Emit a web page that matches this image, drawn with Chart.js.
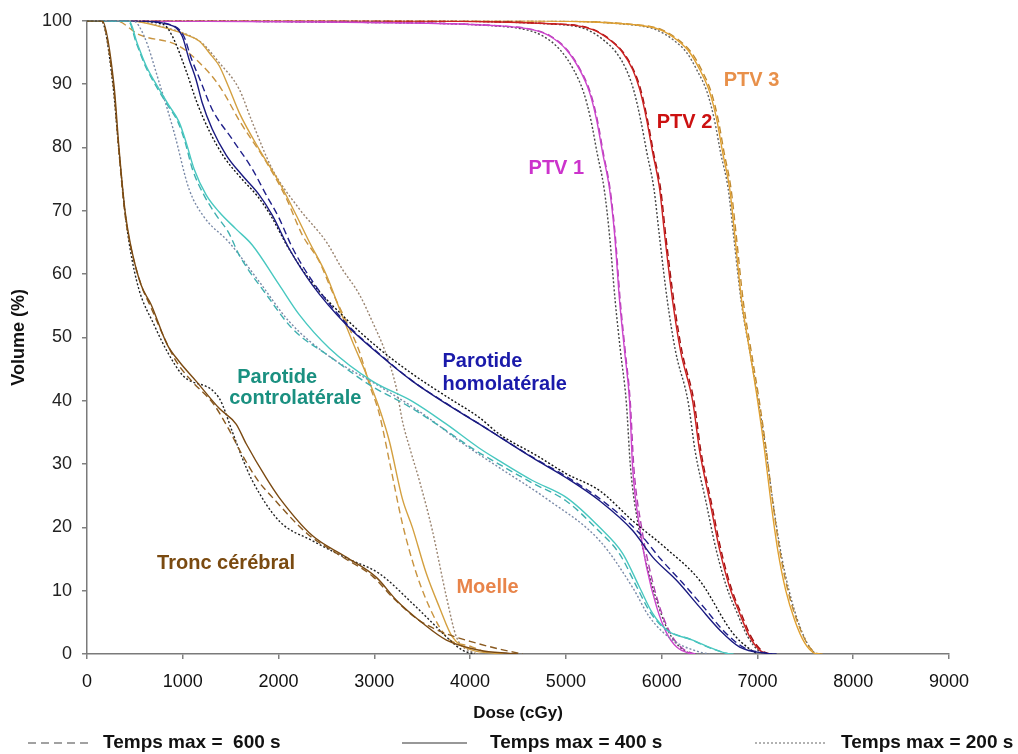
<!DOCTYPE html>
<html>
<head>
<meta charset="utf-8">
<script src="https://cdn.jsdelivr.net/npm/chart.js@4.4.1/dist/chart.umd.min.js"></script>
<style>
  body { margin: 0; background: #fff; }
  #wrap { position: relative; width: 1018px; height: 754px; }
  .leg { position: absolute; top: 729px; height: 26px; font: bold 19px "Liberation Sans", Arial, sans-serif; color: #111; line-height: 26px; white-space: nowrap; }
  .leg svg { position: absolute; top: 0; }
</style>
</head>
<body>
<div id="wrap">
  <canvas id="c" width="1018" height="754"></canvas>
  <div class="leg" style="left:28px"><svg width="64" height="26" style="left:0"><line x1="0" y1="14" x2="62" y2="14" stroke="#444" stroke-width="1.1" stroke-dasharray="8,5"/></svg><span style="position:absolute;left:75px">Temps max =&nbsp; 600 s</span></div>
  <div class="leg" style="left:402px"><svg width="70" height="26" style="left:0"><line x1="0" y1="14" x2="65" y2="14" stroke="#333" stroke-width="1.2"/></svg><span style="position:absolute;left:88px">Temps max = 400 s</span></div>
  <div class="leg" style="left:755px"><svg width="75" height="26" style="left:0"><line x1="0" y1="14" x2="72" y2="14" stroke="#666" stroke-width="1.1" stroke-dasharray="2,2"/></svg><span style="position:absolute;left:86px">Temps max = 200 s</span></div>
</div>
<script>
// dose (cGy), volume (%)
const xTicks = [0, 1000, 2000, 3000, 4000, 5000, 6000, 7000, 8000, 9000];

const troncDashed = [[0,100],[150,100],[275,89.8],[330,79.9],[392,70],[445,65.1],[560,58.5],[660,55],[820,49.5],[940,46],[1100,43],[1320,39.5],[1480,35.5],[1600,32],[1780,27.5],[1950,24.5],[2300,19],[2650,15.5],[2980,12.3],[3200,8.8],[3450,5.5],[3700,3.5],[4000,2],[4300,0.8],[4550,0]];
const troncSolid = [[0,100],[157,100],[282,89.8],[334,79.9],[397,70],[449,65.1],[564,58.3],[669,55.2],[836,48.9],[962,46.2],[1139,43.1],[1380,38.8],[1557,36.3],[1662,33.2],[1871,27.8],[2007,24.7],[2352,18.7],[2707,15.3],[3021,12.1],[3230,8.5],[3502,4.9],[3753,2.2],[4097,0.6],[4411,0.1],[4500,0]];
const troncDotted = [[0,100],[150,100],[270,90],[330,80],[395,70],[450,64],[540,57.7],[700,52],[836,47.8],[1000,44],[1380,40.4],[1520,35],[1620,31],[1725,27.4],[2007,21],[2352,17.9],[2700,15.2],[3052,12.7],[3397,8],[3600,5],[3753,2.7],[3920,0.6],[4050,0]];

const contraDashed = [[0,100],[430,100],[515,96.5],[605,93],[740,89.2],[845,86.6],[950,84],[1025,80.8],[1100,76.6],[1220,72.5],[1340,69.5],[1480,66.5],[1589,63],[1871,56.8],[2143,51.4],[2561,46.7],[2950,42.5],[3350,39.2],[3700,35.8],[4050,32.2],[4300,30],[4650,27],[5000,24.2],[5320,19.8],[5560,15.8],[5740,10.6],[5880,6.6],[6040,3.9],[6300,2.3],[6550,0.7],[6700,0]];
const contraSolid = [[0,100],[439,100],[523,96.5],[617,92.9],[753,89.2],[857,86.6],[962,84],[1035,80.8],[1118,76.6],[1244,72.5],[1380,69.8],[1557,67.1],[1725,64.6],[2007,58.3],[2216,53.6],[2530,48.3],[2979,43.1],[3397,39.9],[3753,36.3],[4097,32.5],[4307,30.5],[4651,27.4],[5007,24.7],[5352,20],[5592,15.9],[5770,10.5],[5906,6.4],[6052,3.8],[6324,2.2],[6575,0.6],[6679,0.1],[6750,0]];
const contraDotted = [[0,100],[480,100],[596,97.6],[753,90.3],[909,82.4],[1066,73.4],[1223,69],[1484,65],[1798,58.8],[2111,52.5],[2530,47],[3052,42.3],[3500,38],[3900,33.5],[4307,29.4],[4800,24.5],[5352,17.9],[5697,10.5],[5875,5.8],[6115,2.2],[6397,0.3],[6500,0]];

const homoDashed = [[0,100],[470,100],[870,99.4],[1010,97.6],[1090,94],[1180,90.7],[1307,86],[1516,81.3],[1725,76.6],[1871,72.5],[2000,69],[2150,64],[2380,58.3],[2720,52],[3060,47.3],[3400,43.1],[3760,39.5],[4100,36.3],[4660,31],[5030,27.8],[5400,24],[5760,19.2],[5990,15],[6220,11.2],[6450,7.2],[6650,3.6],[6860,1],[7150,0]];
const homoSolid = [[0,100],[470,100],[857,99.4],[993,97.6],[1066,93.9],[1139,90.7],[1202,87.1],[1307,82.9],[1453,78.8],[1620,75.6],[1798,72.5],[1934,69.3],[2111,64],[2352,58.3],[2707,52],[3052,47.3],[3397,43.1],[3753,39.5],[4097,36.3],[4651,31],[5007,27.8],[5352,24.2],[5697,19.5],[5906,15.3],[6157,11.6],[6397,7.4],[6606,3.8],[6815,1.1],[7097,0.1],[7200,0]];
const homoDotted = [[0,100],[440,100],[800,99.4],[890,97.6],[1030,92.3],[1150,87],[1280,82.5],[1430,78.5],[1600,75.3],[1780,72.3],[1920,69.2],[2100,64.2],[2340,58.8],[2700,53],[3052,48.2],[3400,44.2],[3760,40.6],[4100,37.3],[4307,34.7],[4700,31.3],[5000,28.5],[5352,25.8],[5700,21],[6052,16.6],[6397,11.6],[6742,3.3],[6900,1],[7000,0]];

const moelleDashed = [[0,100],[300,100],[544,97.8],[962,96],[1244,92.3],[1400,89.3],[1600,84],[1871,77.7],[2080,72],[2247,66.2],[2425,62],[2561,57.2],[2707,52.5],[2843,47.8],[2948,42.6],[3052,37.9],[3170,29.5],[3293,20.6],[3439,12.7],[3606,6.4],[3753,2.7],[4024,1.1],[4200,0]];
const moelleSolid = [[0,100],[439,100],[784,99],[1035,97.8],[1171,96.8],[1300,94.5],[1380,92.9],[1480,89.5],[1589,85.5],[1798,79.7],[2007,74.5],[2185,69.3],[2320,65.1],[2498,59.9],[2634,54.6],[2770,49.4],[2916,44.2],[3052,38.8],[3157,33.6],[3293,24.5],[3397,20],[3543,12.7],[3679,7.4],[3815,2.7],[4024,0.6],[4275,0.1],[4350,0]];
const moelleDotted = [[0,100],[450,100],[800,99],[1050,97.8],[1200,96.5],[1380,93.4],[1589,89.2],[1725,84],[1934,76.6],[2216,70.3],[2498,65.1],[2665,60.8],[2843,56.8],[2979,52.5],[3125,47.3],[3230,42],[3293,36.8],[3380,32],[3470,27.4],[3606,19.5],[3753,9],[3857,2.7],[4024,0.3],[4100,0]];

const ptv1Dashed = [[0,100],[2500,99.8],[4320,99.2],[4660,98.6],[4840,97.6],[5015,95.4],[5150,92.3],[5255,88.7],[5328,84.4],[5390,79.2],[5462,73.4],[5515,66.2],[5568,55.7],[5620,47.8],[5672,39.9],[5710,29.4],[5790,20],[5870,13.7],[5980,7.4],[6090,3.3],[6200,1.1],[6330,0.1],[6400,0]];
const ptv1Solid = [[0,100],[2500,99.8],[4307,99.2],[4651,98.6],[4829,97.6],[5007,95.4],[5143,92.3],[5247,88.7],[5320,84.4],[5383,79.2],[5456,73.4],[5509,66.2],[5561,55.7],[5613,47.8],[5665,39.9],[5697,29.4],[5770,20],[5843,13.7],[5948,7.4],[6052,3.3],[6157,1.1],[6293,0.1],[6350,0]];
const ptv1Dotted = [[0,100],[2500,99.8],[4250,99.2],[4580,98.6],[4760,97.6],[4940,95.4],[5080,92.3],[5185,88.7],[5260,84.4],[5325,79.2],[5400,73.4],[5455,66.2],[5515,55.7],[5570,47.8],[5630,39.9],[5675,29.4],[5760,20],[5850,13.7],[5970,7.4],[6080,3.3],[6190,1.1],[6300,0.1],[6360,0]];

const ptv2Dashed = [[0,100],[3000,100],[5020,99.4],[5290,98.6],[5465,97],[5600,95],[5705,92.3],[5780,89.2],[5852,84.4],[5915,79.2],[5990,73.4],[6042,66.2],[6128,55.7],[6212,47.8],[6338,39.9],[6410,32],[6515,24.2],[6620,16.4],[6725,10.5],[6830,6.4],[6935,2.7],[7040,0.6],[7110,0.1],[7170,0]];
const ptv2Solid = [[0,100],[3000,100],[5007,99.4],[5279,98.6],[5456,97],[5592,95],[5697,92.3],[5770,89.2],[5843,84.4],[5906,79.2],[5979,73.4],[6031,66.2],[6115,55.7],[6198,47.8],[6324,39.9],[6397,32],[6502,24.2],[6606,16.4],[6711,10.5],[6815,6.4],[6920,2.7],[7024,0.6],[7097,0.1],[7150,0]];
const ptv2Dotted = [[0,100],[3000,100],[4950,99.4],[5220,98.6],[5390,97],[5525,95],[5630,92.3],[5705,89.2],[5780,84.4],[5845,79.2],[5920,73.4],[5975,66.2],[6060,55.7],[6145,47.8],[6275,39.9],[6350,32],[6460,24.2],[6570,16.4],[6680,10.5],[6790,6.4],[6900,2.7],[7005,0.6],[7080,0]];

const ptv3Dashed = [[0,100],[4500,100],[5720,99.4],[6000,98.6],[6175,97],[6310,95],[6415,92.3],[6518,88.7],[6590,84.4],[6652,79.2],[6725,73.4],[6778,66.2],[6852,55.7],[6935,47.8],[7020,39.9],[7094,32],[7158,24.2],[7232,16.4],[7318,10],[7412,5.3],[7518,1.7],[7620,0.1],[7680,0]];
const ptv3Solid = [[0,100],[4500,100],[5697,99.4],[5979,98.6],[6157,97],[6293,95],[6397,92.3],[6502,88.7],[6575,84.4],[6637,79.2],[6711,73.4],[6763,66.2],[6836,55.7],[6920,47.8],[7003,39.9],[7076,32],[7139,24.2],[7212,16.4],[7296,10],[7390,5.3],[7495,1.7],[7599,0.1],[7650,0]];
const ptv3Dotted = [[0,100],[4500,100],[5660,99.4],[5940,98.6],[6120,97],[6260,95],[6365,92.3],[6475,88.7],[6550,84.4],[6615,79.2],[6695,73.4],[6750,66.2],[6830,55.7],[6920,47.8],[7010,39.9],[7090,32],[7160,24.2],[7240,16.4],[7330,10],[7420,5.3],[7520,1.7],[7610,0.1],[7660,0]];

// structure name labels, anchored at (dose, volume) - left / middle
const labels = [
  { text: "PTV 1", dose: 4610, vol: 76.7, color: "#cc33cc" },
  { text: "PTV 2", dose: 5948, vol: 84.0, color: "#cc1111" },
  { text: "PTV 3", dose: 6648, vol: 90.6, color: "#e8904a" },
  { text: "Parotide", dose: 3711, vol: 46.2, color: "#1a1aaa" },
  { text: "homolatérale", dose: 3711, vol: 42.6, color: "#1a1aaa" },
  { text: "Parotide", dose: 1568, vol: 43.6, color: "#1a9080" },
  { text: "controlatérale", dose: 1484, vol: 40.4, color: "#1a9080" },
  { text: "Tronc cérébral", dose: 732, vol: 14.3, color: "#7a4a10" },
  { text: "Moelle", dose: 3857, vol: 10.5, color: "#e8844a" }
];

const DASH = [7, 4], DOT = [2, 2];
function curve(pts, color, dash) {
  return {
    data: pts.map(p => ({ x: p[0], y: p[1] })),
    borderColor: color, borderWidth: 1.4, borderDash: dash,
    pointRadius: 0, fill: false, cubicInterpolationMode: 'monotone'
  };
}

const datasets = [
  curve(troncSolid, "#7b4a12", []), curve(troncDashed, "#8a5a20", DASH), curve(troncDotted, "#222", DOT),
  curve(contraSolid, "#48c8c0", []), curve(contraDashed, "#40b0b0", DASH), curve(contraDotted, "#7a8aa8", DOT),
  curve(homoSolid, "#1a1a80", []), curve(homoDashed, "#20208a", DASH), curve(homoDotted, "#111", DOT),
  curve(moelleSolid, "#d4a040", []), curve(moelleDashed, "#c89440", DASH), curve(moelleDotted, "#9a8470", DOT),
  curve(ptv1Solid, "#cc44cc", []), curve(ptv1Dashed, "#b040b0", DASH), curve(ptv1Dotted, "#444", DOT),
  curve(ptv2Solid, "#cc2020", []), curve(ptv2Dashed, "#a01010", DASH), curve(ptv2Dotted, "#444", DOT),
  curve(ptv3Solid, "#e0a030", []), curve(ptv3Dashed, "#c08a30", DASH), curve(ptv3Dotted, "#666", DOT)
];

const labelPlugin = {
  id: 'structLabels',
  afterDatasetsDraw(chart) {
    const { ctx, scales: { x, y } } = chart;
    ctx.save();
    ctx.font = 'bold 20px "Liberation Sans", Arial, sans-serif';
    ctx.textAlign = 'left';
    ctx.textBaseline = 'middle';
    labels.forEach(l => {
      ctx.fillStyle = l.color;
      ctx.fillText(l.text, x.getPixelForValue(l.dose), y.getPixelForValue(l.vol));
    });
    ctx.restore();
  }
};

const sans = '"Liberation Sans", Arial, sans-serif';

new Chart(document.getElementById('c'), {
  type: 'line',
  data: { datasets: datasets },
  options: {
    responsive: false,
    animation: false,
    layout: { padding: { top: 18, right: 69, bottom: 26, left: 0 } },
    plugins: { legend: { display: false }, tooltip: { enabled: false } },
    scales: {
      x: {
        type: 'linear', min: 0, max: 9000,
        afterBuildTicks: s => { s.ticks = xTicks.map(v => ({ value: v })); },
        afterFit: s => { s.height = 74; },
        ticks: { color: '#111', font: { family: sans, size: 18 }, padding: 12, maxRotation: 0, callback: v => String(v) },
        grid: { drawOnChartArea: false, drawTicks: true, tickLength: 5, color: '#808080', lineWidth: 1.5 },
        border: { display: true, color: '#7a7a7a', width: 1.5 },
        title: { display: true, text: 'Dose (cGy)', color: '#111', font: { family: sans, size: 17, weight: 'bold' }, padding: { top: 4, bottom: 4 } }
      },
      y: {
        min: 0, max: 100,
        afterFit: s => { s.width = 87; },
        ticks: { stepSize: 10, color: '#222', font: { family: sans, size: 18 }, padding: 10 },
        grid: { drawOnChartArea: false, drawTicks: true, tickLength: 5, color: '#808080', lineWidth: 1.5 },
        border: { display: true, color: '#7a7a7a', width: 1.5 },
        title: { display: true, text: 'Volume (%)', color: '#111', font: { family: sans, size: 18, weight: 'bold' }, padding: { top: 8, bottom: 0 } }
      }
    }
  },
  plugins: [labelPlugin]
});
</script>
</body>
</html>
